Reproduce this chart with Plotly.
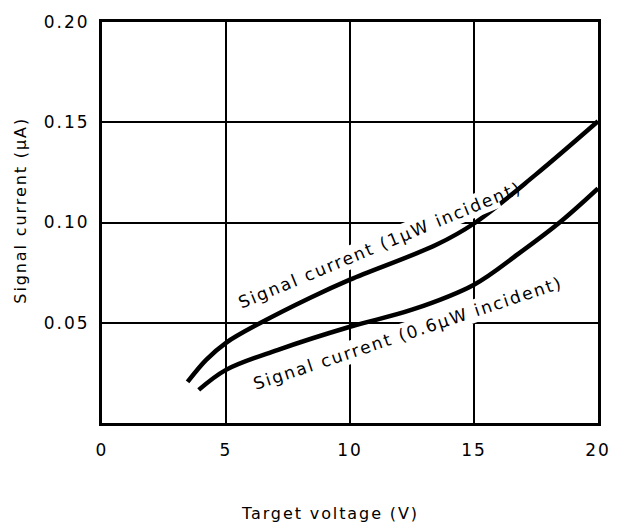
import plotly.graph_objects as go

# Data
volts_1uw = [3.45, 4.2, 5.0, 6.4, 8.4, 10.0, 13.5, 15.0, 17.5, 20.0]
current_1uw = [0.0205, 0.0315, 0.0400, 0.050, 0.0625, 0.0715, 0.089, 0.0995, 0.124, 0.1505]

volts_06uw = [3.9, 5.0, 7.1, 10.0, 12.5, 15.0, 16.8, 18.5, 20.0]
current_06uw = [0.0165, 0.0265, 0.0365, 0.048, 0.0565, 0.069, 0.0845, 0.1005, 0.117]

x_ticks = [0, 5, 10, 15, 20]
x_tick_labels = ["0", "5", "10", "15", "20"]
y_ticks = [0.05, 0.10, 0.15, 0.20]
y_tick_labels = ["0.05", "0.10", "0.15", "0.20"]

label_1uw = "Signal current (1µW incident)"
label_06uw = "Signal current (0.6µW incident)"
x_title = "Target voltage (V)"
y_title = "Signal current (µA)"

FONT = "DejaVu Sans"

fig = go.Figure()
for xs, ys in [(volts_1uw, current_1uw), (volts_06uw, current_06uw)]:
    fig.add_trace(go.Scatter(
        x=xs, y=ys, mode="lines",
        line=dict(color="black", width=4.5, shape="spline", smoothing=1.0),
        showlegend=False, hoverinfo="skip",
    ))

fig.add_annotation(x=11.2, y=0.089, text=label_1uw, showarrow=False,
                   textangle=-22.5, font=dict(family=FONT, size=17, color="black"),
                   bgcolor="white", borderpad=1, xref="x", yref="y")
fig.add_annotation(x=12.35, y=0.0447, text=label_06uw, showarrow=False,
                   textangle=-18.4, font=dict(family=FONT, size=17, color="black"),
                   bgcolor="white", borderpad=1, xref="x", yref="y")

# axis titles
fig.add_annotation(x=0.46, y=-0.225, xref="paper", yref="paper", text=x_title,
                   showarrow=False, yanchor="middle", xanchor="center",
                   font=dict(family=FONT, size=16, color="black"))
fig.add_annotation(x=-0.165, y=0.53, xref="paper", yref="paper", text=y_title,
                   showarrow=False, textangle=-90, yanchor="middle", xanchor="center",
                   font=dict(family=FONT, size=16, color="black"))

fig.update_xaxes(
    range=[0, 20], tickvals=x_ticks, ticktext=x_tick_labels,
    showgrid=True, gridcolor="black", gridwidth=2,
    showline=True, linecolor="black", linewidth=3, mirror=True,
    ticks="", zeroline=False, ticklabelstandoff=10,
    tickfont=dict(family=FONT, size=17, color="black"),
)
fig.update_yaxes(
    range=[0, 0.20], tickvals=y_ticks, ticktext=y_tick_labels,
    showgrid=True, gridcolor="black", gridwidth=2,
    showline=True, linecolor="black", linewidth=3, mirror=True,
    ticks="", zeroline=False, ticklabelstandoff=6,
    tickfont=dict(family=FONT, size=17, color="black"),
)

fig.update_layout(
    width=621, height=528,
    margin=dict(l=102, r=17, t=21, b=105),
    paper_bgcolor="white", plot_bgcolor="white",
)

post = (
    "document.body.style.margin='0';document.body.style.overflow='hidden';"
    "function sp(sel,v){document.querySelectorAll(sel).forEach(function(t){t.style.letterSpacing=v;});}"
    "sp('.xtick text','2px');sp('.ytick text','2px');"
    "sp('.annotation-text','1.9px');"
)

fig.write_html("out.html", config={"displayModeBar": False}, post_script=post)
